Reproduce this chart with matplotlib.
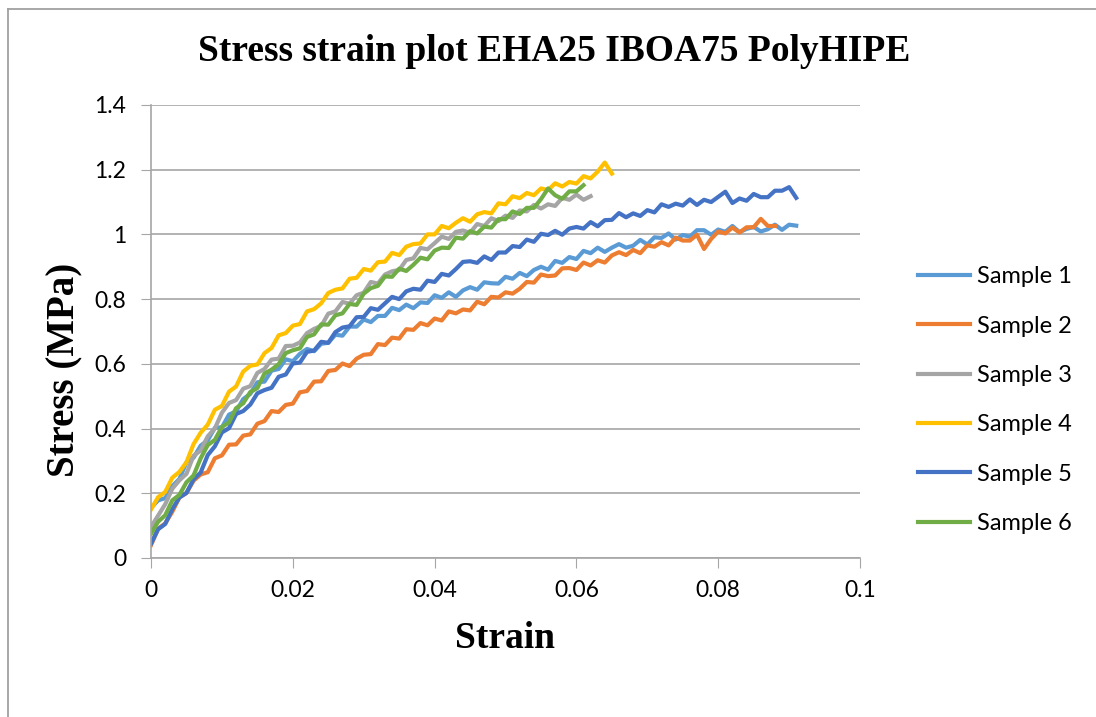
import numpy as np
import matplotlib
matplotlib.use("Agg")
import matplotlib.pyplot as plt
from matplotlib.lines import Line2D

strain_step = 0.001

sample1 = [0.155, 0.178, 0.185, 0.222, 0.244, 0.296, 0.310, 0.347, 0.364, 0.402,
           0.404, 0.443, 0.453, 0.491, 0.507, 0.543, 0.545, 0.579, 0.584, 0.614,
           0.608, 0.631, 0.646, 0.639, 0.662, 0.665, 0.690, 0.687, 0.715, 0.715,
           0.737, 0.729, 0.748, 0.748, 0.773, 0.766, 0.783, 0.772, 0.790, 0.788,
           0.812, 0.804, 0.821, 0.807, 0.827, 0.837, 0.829, 0.852, 0.849, 0.848,
           0.869, 0.863, 0.881, 0.871, 0.890, 0.900, 0.891, 0.918, 0.912, 0.930,
           0.924, 0.949, 0.942, 0.959, 0.946, 0.959, 0.970, 0.959, 0.965, 0.983,
           0.969, 0.991, 0.989, 1.003, 0.984, 0.998, 0.993, 1.013, 1.013, 0.999,
           1.015, 1.008, 1.026, 1.007, 1.017, 1.023, 1.009, 1.016, 1.030, 1.014,
           1.030, 1.027]

sample2 = [0.040, 0.090, 0.107, 0.143, 0.187, 0.201, 0.239, 0.258, 0.265, 0.308,
           0.317, 0.350, 0.351, 0.378, 0.382, 0.415, 0.423, 0.454, 0.451, 0.473,
           0.477, 0.512, 0.516, 0.545, 0.546, 0.578, 0.581, 0.601, 0.593, 0.616,
           0.628, 0.630, 0.661, 0.658, 0.681, 0.678, 0.707, 0.705, 0.726, 0.719,
           0.740, 0.734, 0.762, 0.756, 0.768, 0.765, 0.792, 0.784, 0.807, 0.805,
           0.821, 0.817, 0.832, 0.853, 0.851, 0.876, 0.871, 0.873, 0.895, 0.896,
           0.890, 0.913, 0.904, 0.920, 0.913, 0.935, 0.945, 0.936, 0.952, 0.942,
           0.966, 0.962, 0.976, 0.966, 0.990, 0.981, 0.981, 0.999, 0.955, 0.986,
           1.009, 1.003, 1.021, 1.006, 1.022, 1.022, 1.048, 1.026, 1.026]

sample3 = [0.096, 0.131, 0.166, 0.214, 0.240, 0.260, 0.316, 0.332, 0.376, 0.400,
           0.449, 0.479, 0.488, 0.523, 0.531, 0.572, 0.584, 0.613, 0.616, 0.655,
           0.656, 0.666, 0.695, 0.708, 0.717, 0.755, 0.762, 0.791, 0.786, 0.812,
           0.820, 0.853, 0.848, 0.876, 0.886, 0.890, 0.921, 0.926, 0.958, 0.954,
           0.973, 0.993, 0.986, 1.008, 1.012, 1.005, 1.032, 1.026, 1.050, 1.041,
           1.058, 1.051, 1.074, 1.071, 1.091, 1.080, 1.093, 1.088, 1.113, 1.107,
           1.123, 1.107, 1.118]

sample4 = [0.150, 0.188, 0.204, 0.248, 0.266, 0.296, 0.352, 0.387, 0.412, 0.458,
           0.470, 0.514, 0.530, 0.576, 0.594, 0.598, 0.633, 0.649, 0.688, 0.695,
           0.718, 0.723, 0.762, 0.769, 0.787, 0.819, 0.829, 0.833, 0.863, 0.866,
           0.893, 0.888, 0.914, 0.916, 0.943, 0.936, 0.962, 0.970, 0.972, 1.000,
           1.000, 1.026, 1.019, 1.036, 1.050, 1.039, 1.062, 1.069, 1.065, 1.096,
           1.093, 1.118, 1.112, 1.128, 1.121, 1.142, 1.137, 1.158, 1.148, 1.162,
           1.157, 1.180, 1.173, 1.194, 1.222, 1.188]

sample5 = [0.044, 0.089, 0.105, 0.151, 0.187, 0.201, 0.243, 0.264, 0.318, 0.345,
           0.388, 0.401, 0.445, 0.454, 0.474, 0.509, 0.519, 0.526, 0.560, 0.567,
           0.601, 0.604, 0.637, 0.641, 0.668, 0.665, 0.698, 0.712, 0.716, 0.744,
           0.745, 0.772, 0.767, 0.787, 0.807, 0.800, 0.824, 0.832, 0.829, 0.857,
           0.853, 0.878, 0.873, 0.893, 0.915, 0.917, 0.912, 0.932, 0.921, 0.944,
           0.944, 0.964, 0.961, 0.984, 0.977, 1.002, 0.998, 1.011, 0.999, 1.018,
           1.023, 1.018, 1.038, 1.025, 1.044, 1.045, 1.066, 1.053, 1.065, 1.057,
           1.075, 1.068, 1.093, 1.085, 1.095, 1.089, 1.108, 1.091, 1.107, 1.100,
           1.116, 1.132, 1.097, 1.111, 1.104, 1.125, 1.115, 1.115, 1.135, 1.135,
           1.146, 1.113]

sample6 = [0.075, 0.112, 0.132, 0.178, 0.195, 0.234, 0.255, 0.308, 0.349, 0.365,
           0.405, 0.419, 0.463, 0.478, 0.513, 0.525, 0.570, 0.582, 0.599, 0.633,
           0.642, 0.648, 0.683, 0.691, 0.722, 0.721, 0.750, 0.756, 0.785, 0.782,
           0.817, 0.834, 0.841, 0.870, 0.869, 0.894, 0.887, 0.906, 0.928, 0.923,
           0.950, 0.959, 0.958, 0.990, 0.987, 1.010, 1.003, 1.024, 1.021, 1.047,
           1.047, 1.071, 1.063, 1.082, 1.082, 1.109, 1.142, 1.121, 1.110, 1.133,
           1.133, 1.152]

labels = ["Sample 1", "Sample 2", "Sample 3", "Sample 4", "Sample 5", "Sample 6"]
colors = ["#5B9BD5", "#ED7D31", "#A5A5A5", "#FFC000", "#4472C4", "#70AD47"]
series = [sample1, sample2, sample3, sample4, sample5, sample6]

x_ticks = [0, 0.02, 0.04, 0.06, 0.08, 0.1]
x_tick_labels = ["0", "0.02", "0.04", "0.06", "0.08", "0.1"]
y_ticks = [0, 0.2, 0.4, 0.6, 0.8, 1.0, 1.2, 1.4]
y_tick_labels = ["0", "0.2", "0.4", "0.6", "0.8", "1", "1.2", "1.4"]

grid_col = "#A6A6A6"
tick_font = "Lato"
serif_font = ["Liberation Serif", "DejaVu Serif"]

fig = plt.figure(figsize=(10.96, 7.17), dpi=100)
ax = fig.add_axes([0.1378, 0.2218, 0.6469, 0.6318])

for vals, lab, col in zip(series, labels, colors):
    strain = np.arange(len(vals)) * strain_step
    ax.plot(strain, vals, color=col, lw=3.0, label=lab, solid_joinstyle="round")

ax.set_xlim(0, 0.1)
ax.set_ylim(0, 1.4)
ax.set_xticks(x_ticks)
ax.set_xticklabels(x_tick_labels, fontsize=16.5, family=tick_font)
ax.set_yticks(y_ticks)
ax.set_yticklabels(y_tick_labels, fontsize=16.5, family=tick_font)
ax.tick_params(axis="x", direction="out", length=7, color=grid_col, pad=9)
ax.tick_params(axis="y", direction="out", length=7, color=grid_col, pad=11)
ax.grid(axis="y", color=grid_col, lw=1.2)
ax.set_axisbelow(True)
for side in ["top", "right"]:
    ax.spines[side].set_visible(False)
for side in ["left", "bottom"]:
    ax.spines[side].set_color(grid_col)
    ax.spines[side].set_linewidth(1.2)

fig.text(0.506, 0.9275, "Stress strain plot EHA25 IBOA75 PolyHIPE", ha="center", va="center",
         fontsize=27, fontweight="bold", family=serif_font)
fig.text(0.4608, 0.110, "Strain", ha="center", va="center",
         fontsize=27, fontweight="bold", family=serif_font)
fig.text(0.0593, 0.484, "Stress (MPa)", ha="center", va="center", rotation=90,
         fontsize=28, fontweight="bold", family=serif_font)

leg = fig.legend(loc="center left", bbox_to_anchor=(0.8376, 0.442), frameon=False,
                 prop={"family": tick_font, "size": 17}, handlelength=2.2,
                 handletextpad=0.3, labelspacing=1.2, borderpad=0, borderaxespad=0)

# chart-area border (only the top and left edges show in the picture)
fig.add_artist(Line2D([8 / 1096, 8 / 1096], [0, 1 - 9 / 717], color="#A0A0A0", lw=1.3,
                      transform=fig.transFigure))
fig.add_artist(Line2D([8 / 1096, 1], [1 - 9 / 717, 1 - 9 / 717], color="#A0A0A0", lw=1.3,
                      transform=fig.transFigure))

fig.savefig("out.png", dpi=100)
